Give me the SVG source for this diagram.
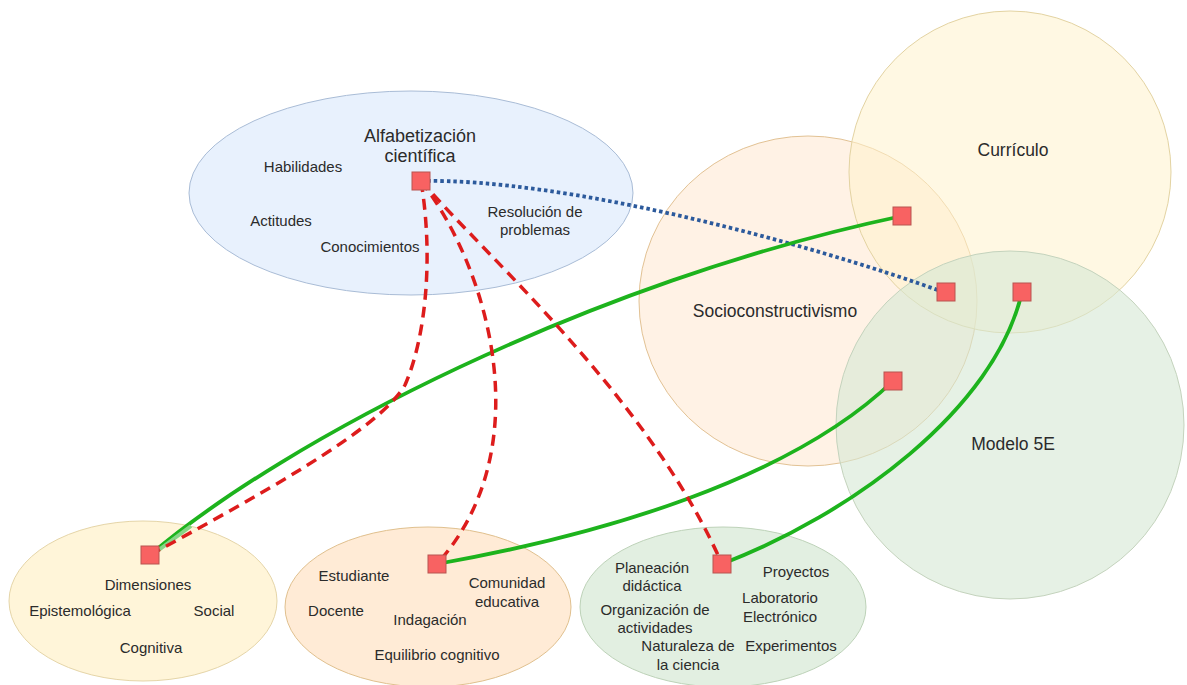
<svg xmlns="http://www.w3.org/2000/svg" width="1187" height="685" viewBox="0 0 1187 685">
  <style>
    text { font-family: "Liberation Sans", Arial, sans-serif; fill: #2b2b2b; text-anchor: middle; }
    .sm { font-size: 15px; }
    .lg { font-size: 17.5px; }
    .pin { fill: #f86262; stroke: #b85450; stroke-width: 1; }
    .green { fill: none; stroke: #1db31d; stroke-width: 3.8; stroke-linecap: round; }
    .red { fill: none; stroke: #dd1c1c; stroke-width: 3.5; stroke-dasharray: 11 7; }
    .blue { fill: none; stroke: #2c5a9c; stroke-width: 3.8; stroke-dasharray: 3.5 3; }
  </style>

  <rect width="1187" height="685" fill="#ffffff"/>

  <!-- large theme circles -->
  <g id="socioconstructivismo">
    <ellipse cx="808" cy="301" rx="169" ry="165" fill="#ffe6cc" fill-opacity="0.5" stroke="#e2c294" stroke-width="1"/>
    <text class="lg" x="775" y="317">Socioconstructivismo</text>
  </g>
  <g id="curriculo">
    <circle cx="1010" cy="172" r="161" fill="#fff2cc" fill-opacity="0.55" stroke="#e3d3a2" stroke-width="1"/>
    <text class="lg" x="1013" y="156">Currículo</text>
  </g>
  <g id="modelo-5e">
    <circle cx="1010" cy="425" r="174" fill="#d5e8d4" fill-opacity="0.6" stroke="#c4d3bd" stroke-width="1"/>
    <text class="lg" x="1013" y="450">Modelo 5E</text>
  </g>

  <!-- concept ellipses -->
  <g id="alfabetizacion">
    <ellipse cx="411" cy="193" rx="222" ry="102" fill="#dae8fc" fill-opacity="0.62" stroke="#a9bcd6" stroke-width="1"/>
    <text x="420" y="142" style="font-size:18px">Alfabetización</text>
    <text x="420" y="162" style="font-size:18px">científica</text>
    <text class="sm" x="303" y="172">Habilidades</text>
    <text class="sm" x="281" y="226">Actitudes</text>
    <text class="sm" x="370" y="252">Conocimientos</text>
    <text class="sm" x="535" y="217">Resolución de</text>
    <text class="sm" x="535" y="235">problemas</text>
  </g>

  <g id="dimensiones">
    <ellipse cx="143" cy="601" rx="134" ry="80" fill="#fff2cc" fill-opacity="0.75" stroke="#e5d5a8" stroke-width="1"/>
    <text class="sm" x="148" y="590">Dimensiones</text>
    <text class="sm" x="80" y="616">Epistemológica</text>
    <text class="sm" x="214" y="616">Social</text>
    <text class="sm" x="151" y="653">Cognitiva</text>
  </g>

  <g id="actores">
    <ellipse cx="428" cy="607" rx="143" ry="80" fill="#ffe6cc" fill-opacity="0.8" stroke="#e0c08e" stroke-width="1"/>
    <text class="sm" x="354" y="581">Estudiante</text>
    <text class="sm" x="336" y="616">Docente</text>
    <text class="sm" x="430" y="625">Indagación</text>
    <text class="sm" x="507" y="588">Comunidad</text>
    <text class="sm" x="507" y="607">educativa</text>
    <text class="sm" x="437" y="660">Equilibrio cognitivo</text>
  </g>

  <g id="estrategias">
    <ellipse cx="723" cy="607" rx="143" ry="80" fill="#d5e8d4" fill-opacity="0.7" stroke="#bdd2b8" stroke-width="1"/>
    <text class="sm" x="652" y="573">Planeación</text>
    <text class="sm" x="652" y="591">didáctica</text>
    <text class="sm" x="655" y="615">Organización de</text>
    <text class="sm" x="655" y="633">actividades</text>
    <text class="sm" x="688" y="651">Naturaleza de</text>
    <text class="sm" x="688" y="670">la ciencia</text>
    <text class="sm" x="796" y="577">Proyectos</text>
    <text class="sm" x="780" y="603">Laboratorio</text>
    <text class="sm" x="780" y="622">Electrónico</text>
    <text class="sm" x="791" y="651">Experimentos</text>
  </g>

  <!-- connectors -->
  <g id="connectors">
    <path class="blue" d="M421,181 C560,178 800,240 946,293"/>
    <g id="link-dimensiones-curriculo">
      <path class="green" d="M150,555 C285,440 590,282 902,216"/>
      <path d="M191,526 L156,552" fill="none" stroke="#86d586" stroke-width="3.8"/>
    </g>
    <path class="green" d="M437,564 C600,535 790,480 893,381"/>
    <path class="green" d="M722,564 C850,515 995,410 1022,292"/>
    <path class="red" d="M421,181 C434,260 425,340 405,385 C380,430 250,500 150,555"/>
    <path class="red" d="M421,181 C490,270 540,450 437,564"/>
    <path class="red" d="M421,181 C490,260 650,400 722,564"/>
  </g>

  <!-- connection points -->
  <g id="points">
    <rect id="p-alfabetizacion" class="pin" x="412" y="172" width="18" height="18"/>
    <rect id="p-curriculo-socio" class="pin" x="893" y="207" width="18" height="18"/>
    <rect id="p-triple" class="pin" x="937" y="283" width="18" height="18"/>
    <rect id="p-curriculo-modelo" class="pin" x="1013" y="283" width="18" height="18"/>
    <rect id="p-socio-modelo" class="pin" x="884" y="372" width="18" height="18"/>
    <rect id="p-dimensiones" class="pin" x="141" y="546" width="18" height="18"/>
    <rect id="p-actores" class="pin" x="428" y="555" width="18" height="18"/>
    <rect id="p-estrategias" class="pin" x="713" y="555" width="18" height="18"/>
  </g>
</svg>
